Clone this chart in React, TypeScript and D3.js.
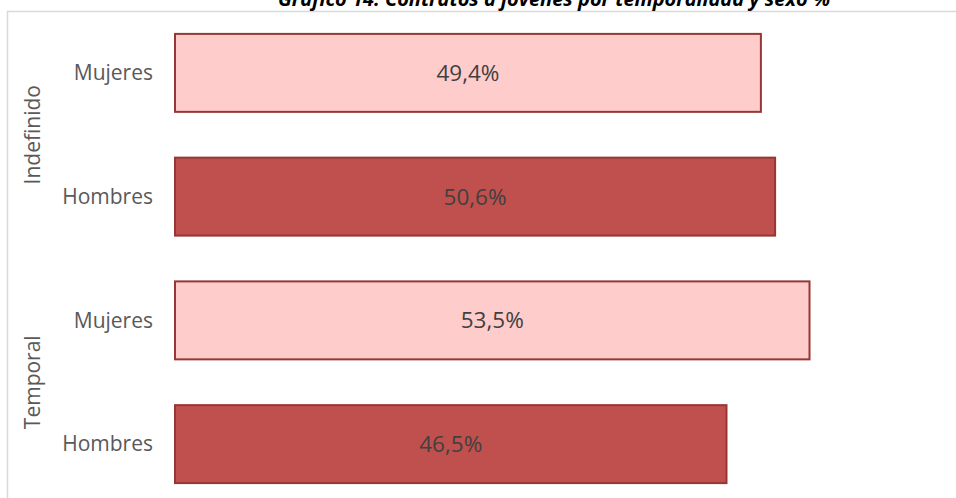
import React from "react";
import * as d3 from "d3";

const groups = ["Indefinido", "Temporal"];
const rows = [
  { group: "Indefinido", sex: "Mujeres", value: 49.4 },
  { group: "Indefinido", sex: "Hombres", value: 50.6 },
  { group: "Temporal", sex: "Mujeres", value: 53.5 },
  { group: "Temporal", sex: "Hombres", value: 46.5 },
];
const title = "Gráfico 14. Contratos a jóvenes por temporalidad y sexo %";

const W = 956;
const H = 498;
const FONT = "'Open Sans', sans-serif";

export default function App() {
  const x = d3.scaleLinear().domain([0, 60]).range([175, 886.6]);
  const y = d3
    .scaleBand<number>()
    .domain(rows.map((_, i) => i))
    .range([11, 506])
    .paddingInner(0.37)
    .paddingOuter(0.185);
  const fmt = (v: number) => d3.format(".1f")(v).replace(".", ",") + "%";
  const fill = (s: string) => (s === "Mujeres" ? "#ffcccc" : "#c0504d");
  return (
    <svg
      width={W}
      height={H}
      style={{ position: "absolute", left: 0, top: 0, background: "#fff" }}
    >
      <rect x={7.5} y={11.5} width={1000} height={600} fill="#fff" stroke="#d9d9d9" strokeWidth={1.5} />
      <text
        x={554}
        y={6}
        textAnchor="middle"
        fontFamily={FONT}
        fontWeight="bold"
        fontStyle="italic"
        fontSize={20}
        fill="#000"
      >
        {title}
      </text>
      {rows.map((r, i) => (
        <g key={i}>
          <rect
            x={x(0)}
            y={y(i)!}
            width={x(r.value) - x(0)}
            height={y.bandwidth()}
            fill={fill(r.sex)}
            stroke="#953735"
            strokeWidth={2}
          />
          <text
            x={(x(0) + x(r.value)) / 2}
            y={y(i)! + y.bandwidth() / 2}
            dy="0.35em"
            textAnchor="middle"
            fontFamily={FONT}
            fontSize={22.5}
            fill="#404040"
          >
            {fmt(r.value)}
          </text>
          <text
            x={153}
            y={y(i)! + y.bandwidth() / 2}
            dy="0.35em"
            textAnchor="end"
            fontFamily={FONT}
            fontSize={21}
            fill="#595959"
          >
            {r.sex}
          </text>
        </g>
      ))}
      {groups.map((g) => {
        const idx = rows.map((r, i) => (r.group === g ? i : -1)).filter((i) => i >= 0);
        const cy =
          (y(idx[0])! + y(idx[idx.length - 1])! + y.bandwidth()) / 2;
        return (
          <text
            key={g}
            transform={`translate(33,${cy}) rotate(-90)`}
            dy="0.35em"
            textAnchor="middle"
            fontFamily={FONT}
            fontSize={21}
            fill="#595959"
          >
            {g}
          </text>
        );
      })}
    </svg>
  );
}
